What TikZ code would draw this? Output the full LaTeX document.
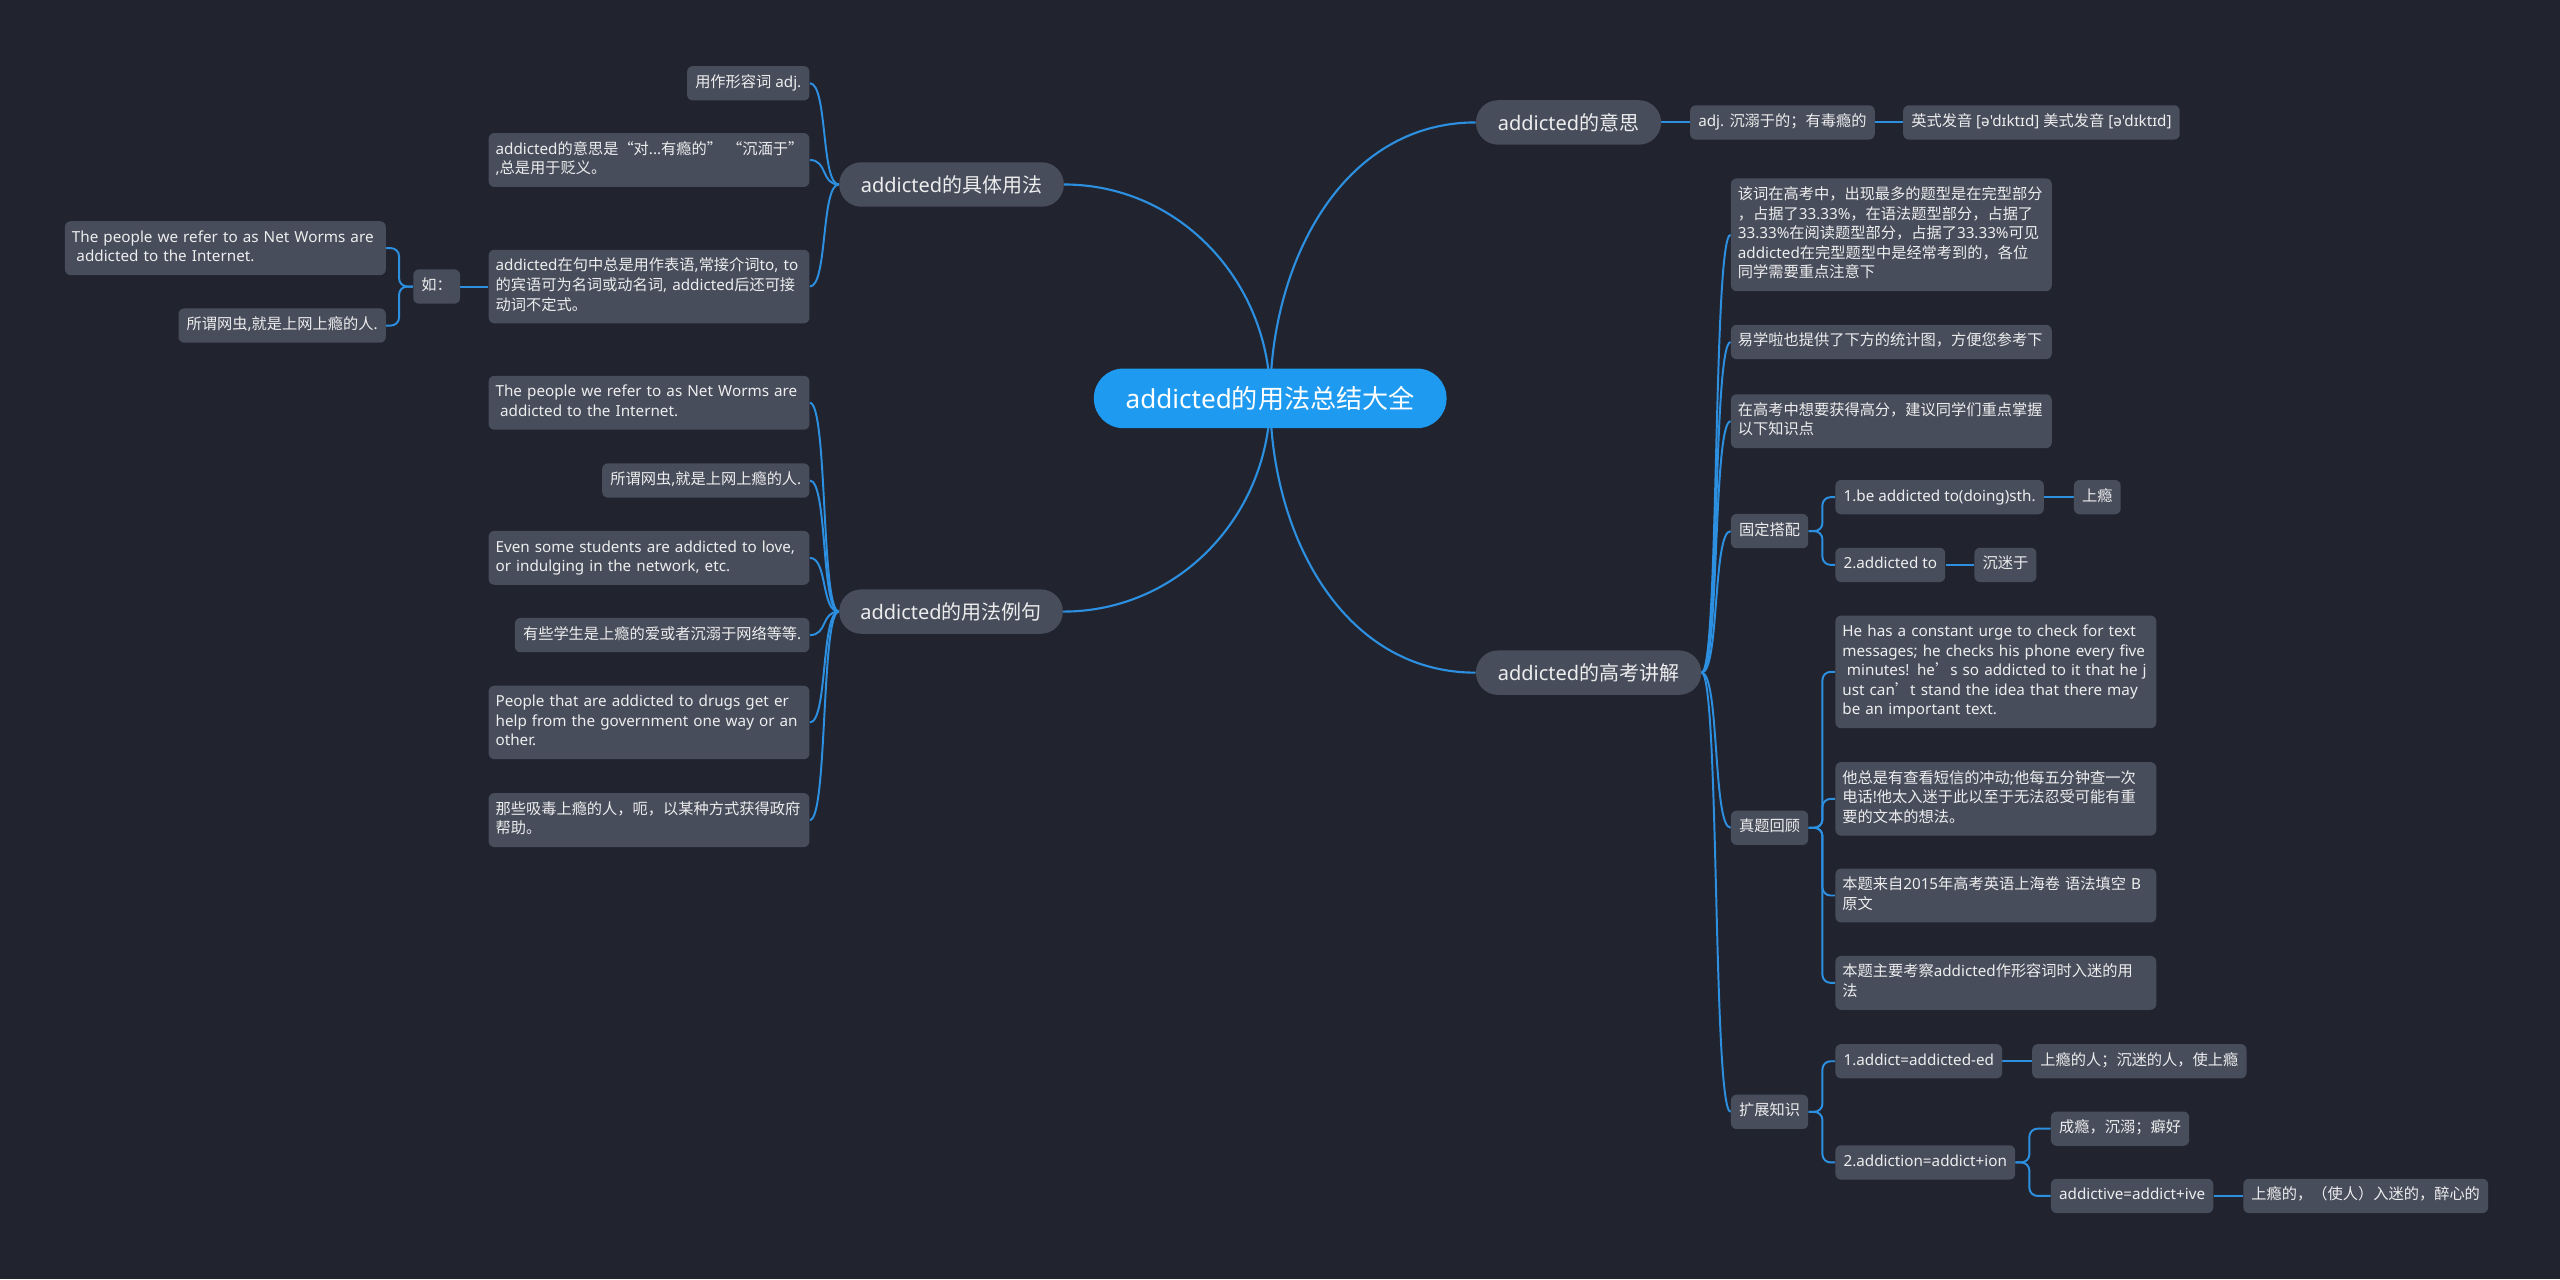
\documentclass[tikz,border=0pt]{standalone}
\usepackage{fontspec}
\usetikzlibrary{positioning,backgrounds}

\newfontfamily\latinfont{Noto Sans}
\newfontfamily\cjkfont{Noto Sans CJK SC}

% CJK characters switch to the CJK face on their own
\XeTeXinterchartokenstate=1
\newXeTeXintercharclass\cjkclass
\newcount\cjkcode
\newcommand\cjkrange[2]{%
  \cjkcode=#1
  \loop
    \XeTeXcharclass\cjkcode=\cjkclass
  \ifnum\cjkcode<#2 \advance\cjkcode by 1 \repeat}
\cjkrange{"3000}{"303F}
\cjkrange{"4E00}{"9FFF}
\cjkrange{"FF00}{"FFEF}
\cjkrange{"2018}{"2019}
\cjkrange{"201C}{"201D}
\XeTeXinterchartoks 0 \cjkclass = {\cjkfont}
\XeTeXinterchartoks 4095 \cjkclass = {\cjkfont}
\XeTeXinterchartoks \cjkclass 0 = {\latinfont}
\XeTeXinterchartoks \cjkclass 4095 = {\latinfont}

\definecolor{canvas}{HTML}{21242F}
\definecolor{nodegray}{HTML}{484D5C}
\definecolor{rootblue}{HTML}{1E9BF0}
\definecolor{wireblue}{HTML}{2C8FE0}
\definecolor{inktext}{HTML}{EDEDED}

\begin{document}
\begin{tikzpicture}[
        x=1pt, y=1pt,
        root/.style={
            rounded corners=18pt,
            fill=rootblue,
            text=white,
            minimum width=216pt,
            minimum height=36.5pt,
            font=\latinfont\fontsize{16}{19}\selectfont
        },
        branch/.style={
            rounded corners=13.5pt,
            fill=nodegray,
            text=inktext,
            minimum height=27.2pt,
            inner xsep=12pt,
            font=\latinfont\fontsize{12.25}{15}\selectfont
        },
        leaf/.style={
            rounded corners=3.5pt,
            fill=nodegray,
            text=inktext,
            inner xsep=5pt,
            inner ysep=4.5pt,
            align=left,
            execute at begin node={\noindent\strut},
            execute at end node={\strut},
            font=\latinfont\fontsize{9.33}{12}\selectfont
        },
        wide/.style={
            leaf,
            inner xsep=4.25pt,
            text width=188pt
        },
        wire/.style={
            draw=wireblue,
            line width=1.2pt
        },
        trunk/.style={
            wire,
            line width=1.3pt
        },
        sway/.style={wire, to path={.. controls +(11,0) and +(-11,0) .. (\tikztotarget)}},
        swayl/.style={wire, to path={.. controls +(-11,0) and +(11,0) .. (\tikztotarget)}},
        elbow/.style={wire, rounded corners=5pt, to path={-- ++(8.5,0) |- (\tikztotarget)}},
        elbowl/.style={wire, rounded corners=5pt, to path={-- ++(-8.5,0) |- (\tikztotarget)}}
    ]

    \node[root] (root) at (778,-244) {addicted的用法总结大全};

    \node[branch, minimum width=113.4pt] (mean)  at (960.7,-75)    {addicted的意思};
    \node[branch, minimum width=138pt]   (exam)  at (973,-412)     {addicted的高考讲解};
    \node[branch, minimum width=137.6pt] (usage) at (582.8,-113)   {addicted的具体用法};
    \node[branch, minimum width=137pt]   (sent)  at (582.5,-374.6) {addicted的用法例句};

    % right side
    \node[leaf, anchor=west] (mean_adj) at (1035,-75) {adj. 沉溺于的；有毒瘾的};
    \node[leaf, right=17pt of mean_adj] (mean_ipa) {英式发音 [ə'dɪktɪd] 美式发音 [ə'dɪktɪd]};

    \node[wide, anchor=west] (exam_a) at (1060,-143.8) {该词在高考中，出现最多的题型是在完型部分\\，占据了33.33\%，在语法题型部分，占据了\\33.33\%在阅读题型部分，占据了33.33\%可见\\addicted在完型题型中是经常考到的，各位\\同学需要重点注意下};
    \node[wide, anchor=west] (exam_b) at (1060,-209.5) {易学啦也提供了下方的统计图，方便您参考下};
    \node[wide, anchor=west] (exam_c) at (1060,-258) {在高考中想要获得高分，建议同学们重点掌握\\以下知识点};

    \node[leaf, anchor=west] (exam_fix) at (1060,-325.3) {固定搭配};
    \node[leaf, anchor=west] (fix_a) at (1124,-304.5) {1.be addicted to(doing)sth.};
    \node[leaf, right=18pt of fix_a] (fix_a2) {上瘾};
    \node[leaf, anchor=west] (fix_b) at (1124,-346) {2.addicted to};
    \node[leaf, right=17.5pt of fix_b] (fix_b2) {沉迷于};

    \node[leaf, anchor=west] (exam_rev) at (1060,-507) {真题回顾};
    \node[wide, anchor=west] (rev_a) at (1124,-411.5) {He has a constant urge to check for text\\messages; he checks his phone every~five\\\hspace*{.3em}minutes! he’s so addicted to it that he~j\\ust can’t stand the idea that there may\\be an important text.};
    \node[wide, anchor=west] (rev_b) at (1124,-489.3) {他总是有查看短信的冲动;他每五分钟查一次\\电话!他太入迷于此以至于无法忍受可能有重\\要的文本的想法。};
    \node[wide, anchor=west] (rev_c) at (1124,-548.5) {本题来自2015年高考英语上海卷 语法填空~B\\原文};
    \node[wide, anchor=west] (rev_d) at (1124,-602) {本题主要考察addicted作形容词时入迷的用\\法};

    \node[leaf, anchor=west] (exam_ext) at (1060,-681) {扩展知识};
    \node[leaf, anchor=west] (ext_a) at (1124,-650) {1.addict=addicted-ed};
    \node[leaf, right=18pt of ext_a] (ext_a2) {上瘾的人；沉迷的人，使上瘾};
    \node[leaf, anchor=west] (ext_b) at (1124,-712) {2.addiction=addict+ion};
    \node[leaf, anchor=west] (ext_b1) at (1256,-691.3) {成瘾，沉溺；癖好};
    \node[leaf, anchor=west] (ext_b2) at (1256,-732.5) {addictive=addict+ive};
    \node[leaf, right=18pt of ext_b2] (ext_b3) {上瘾的，（使人）入迷的，醉心的};

    % left side
    \node[leaf, anchor=east] (use_a) at (496,-51) {用作形容词 adj.};
    \node[wide, anchor=east] (use_b) at (496,-98) {addicted的意思是“对...有瘾的”~“沉湎于”\\,总是用于贬义。};
    \node[wide, anchor=east] (use_c) at (496,-175.5) {addicted在句中总是用作表语,常接介词to,~to\\的宾语可为名词或动名词, addicted后还可接\\动词不定式。};
    \node[leaf, anchor=east] (use_eg) at (282,-175.5) {如：};
    \node[wide, anchor=east] (eg_a) at (236.5,-152) {The people we refer to as Net Worms~are\\\hspace*{.3em}addicted to the Internet.};
    \node[leaf, anchor=east] (eg_b) at (236.5,-199.4) {所谓网虫,就是上网上瘾的人.};

    \node[wide, anchor=east] (sent_a) at (496,-246.7) {The people we refer to as Net Worms~are\\\hspace*{.3em}addicted to the Internet.};
    \node[leaf, anchor=east] (sent_b) at (496,-294.3) {所谓网虫,就是上网上瘾的人.};
    \node[wide, anchor=east] (sent_c) at (496,-341.7) {Even some students are addicted to~love,\\or indulging in the network, etc.};
    \node[leaf, anchor=east] (sent_d) at (496,-389) {有些学生是上瘾的爱或者沉溺于网络等等.};
    \node[wide, anchor=east] (sent_e) at (496,-442.5) {People that are addicted to drugs get~er\\help from the government one way or~an\\other.};
    \node[wide, anchor=east] (sent_f) at (496,-502.3) {那些吸毒上瘾的人，呃，以某种方式获得政府\\帮助。};

    \begin{scope}[on background layer]
        \fill[canvas] (0,0) rectangle (1568,-783.4);

        \draw[trunk] (root.center) to[out=90,in=180]  (mean.west);
        \draw[trunk] (root.center) to[out=-90,in=180] (exam.west);
        \draw[trunk] (root.center) to[out=90,in=0]    (usage.east);
        \draw[trunk] (root.center) to[out=-90,in=0]   (sent.east);

        \draw[wire] (mean.east) -- (mean_adj.west);
        \draw[wire] (mean_adj.east) -- (mean_ipa.west);

        \foreach \k in {exam_a,exam_b,exam_c,exam_fix,exam_rev,exam_ext}
            \draw[sway] (exam.east) to (\k.west);
        \foreach \k in {fix_a,fix_b}
            \draw[elbow] (exam_fix.east) to (\k.west);
        \draw[wire] (fix_a.east) -- (fix_a2.west);
        \draw[wire] (fix_b.east) -- (fix_b2.west);
        \foreach \k in {rev_a,rev_b,rev_c,rev_d}
            \draw[elbow] (exam_rev.east) to (\k.west);
        \foreach \k in {ext_a,ext_b}
            \draw[elbow] (exam_ext.east) to (\k.west);
        \draw[wire] (ext_a.east) -- (ext_a2.west);
        \foreach \k in {ext_b1,ext_b2}
            \draw[elbow] (ext_b.east) to (\k.west);
        \draw[wire] (ext_b2.east) -- (ext_b3.west);

        \foreach \k in {use_a,use_b,use_c}
            \draw[swayl] (usage.west) to (\k.east);
        \draw[wire] (use_c.west) -- (use_eg.east);
        \foreach \k in {eg_a,eg_b}
            \draw[elbowl] (use_eg.west) to (\k.east);
        \foreach \k in {sent_a,sent_b,sent_c,sent_d,sent_e,sent_f}
            \draw[swayl] (sent.west) to (\k.east);
    \end{scope}

\end{tikzpicture}
\end{document}
